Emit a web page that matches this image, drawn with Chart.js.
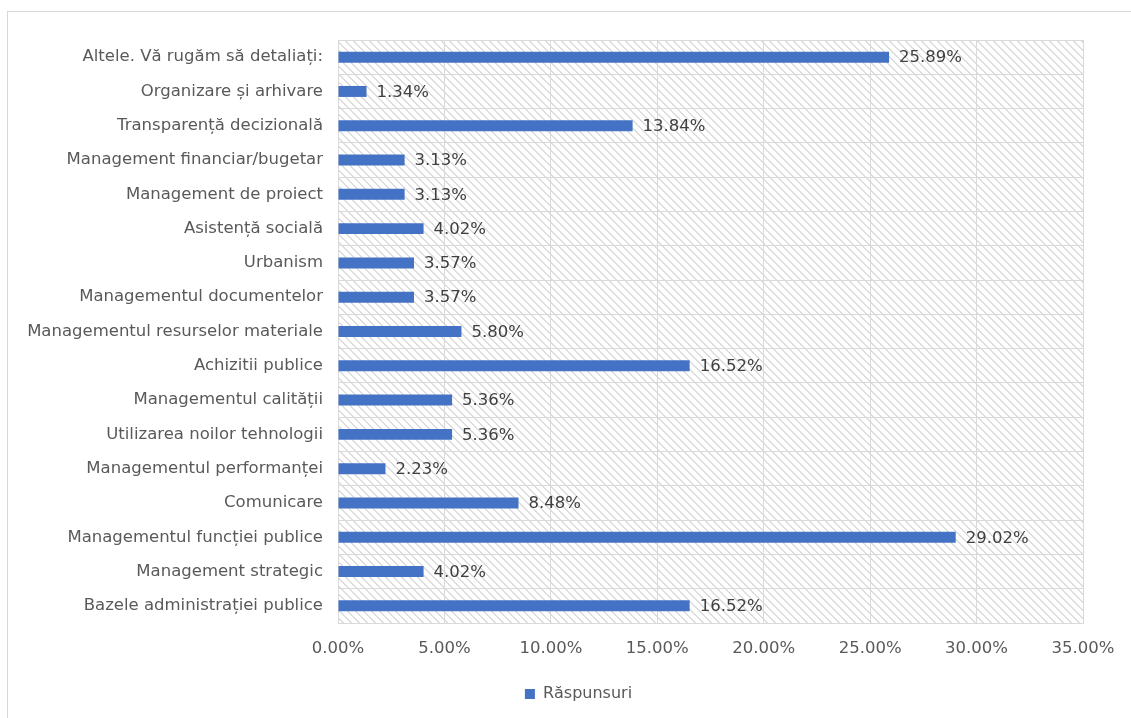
<!DOCTYPE html>
<html>
<head>
<meta charset="utf-8">
<script src="https://cdn.jsdelivr.net/npm/chart.js@4"></script>
<style>
  html, body { margin: 0; padding: 0; background: #fff; overflow: hidden; }
  #wrap { width: 1131px; height: 718px; }
</style>
</head>
<body>
<div id="wrap"><canvas id="myChart" width="1131" height="718"></canvas></div>
<script>
const ctx = document.getElementById("myChart").getContext("2d");

// categories, top to bottom
const categories = [
  "Altele. Vă rugăm să detaliați:",
  "Organizare și arhivare",
  "Transparență decizională",
  "Management financiar/bugetar",
  "Management de proiect",
  "Asistență socială",
  "Urbanism",
  "Managementul documentelor",
  "Managementul resurselor materiale",
  "Achizitii publice",
  "Managementul calității",
  "Utilizarea noilor tehnologii",
  "Managementul performanței",
  "Comunicare",
  "Managementul funcției publice",
  "Management strategic",
  "Bazele administrației publice",
];

// share of answers, in percent
const raspunsuri = [
  25.89, 1.34, 13.84, 3.13, 3.13, 4.02, 3.57, 3.57, 5.8, 16.52, 5.36, 5.36,
  2.23, 8.48, 29.02, 4.02, 16.52,
];

const xTicks = [0, 5, 10, 15, 20, 25, 30, 35];

const FONT = "'DejaVu Sans', sans-serif";
const FSIZE = 16.5;
const TEXT = "#595959";
const GRID = "#d9d9d9";

// diagonal hatch for the plot area
function makeHatch() {
  const tile = document.createElement("canvas");
  tile.width = 8;
  tile.height = 8;
  const t = tile.getContext("2d");
  t.fillStyle = "#dcdcdc";
  for (let i = 0; i < 8; i++) {
    t.fillRect(i, i, 1, 1);
    t.fillRect((i + 1) % 8, i, 1, 1);
  }
  return ctx.createPattern(tile, "repeat");
}
const hatch = makeHatch();

const backdrop = {
  id: "backdrop",
  afterLayout(chart) {
    // legend sits centred under the whole frame, not the plot
    chart.legend.left += 37;
    chart.legend.right += 37;
  },
  beforeDraw(chart) {
    const c = chart.ctx;
    const a = chart.chartArea;
    c.save();
    c.strokeStyle = GRID;
    c.lineWidth = 1;
    c.strokeRect(7.5, 11.5, 1300, 900);
    c.fillStyle = hatch;
    c.fillRect(a.left, a.top, a.right - a.left, a.bottom - a.top);
    c.restore();
  },
  afterDatasetsDraw(chart) {
    const c = chart.ctx;
    const meta = chart.getDatasetMeta(0);
    c.save();
    c.font = FSIZE + "px " + FONT;
    c.fillStyle = "#404040";
    c.textBaseline = "middle";
    c.textAlign = "left";
    meta.data.forEach((bar, i) => {
      c.fillText(raspunsuri[i].toFixed(2) + "%", bar.x + 10, bar.y + 1);
    });
    c.restore();
  },
};

function buildChart() {
  const config = {
    type: "bar",
    data: {
      labels: categories,
      datasets: [
        {
          label: "Răspunsuri",
          data: raspunsuri,
          backgroundColor: "#4472c4",
          borderWidth: 0,
          categoryPercentage: 1,
          barPercentage: 0.32,
        },
      ],
    },
    plugins: [backdrop],
    options: {
      indexAxis: "y",
      responsive: false,
      animation: false,
      layout: { padding: { top: 40, right: 48, left: 0, bottom: 6 } },
      plugins: {
        tooltip: { enabled: false },
        legend: {
          position: "bottom",
          labels: {
            font: { family: FONT, size: 16 },
            color: TEXT,
            boxWidth: 10,
            boxHeight: 10,
            padding: 10,
          },
        },
      },
      scales: {
        x: {
          min: 0,
          max: 35,
          afterBuildTicks: (scale) => {
            scale.ticks = xTicks.map((v) => ({ value: v }));
          },
          afterFit: (scale) => {
            scale.height = 53;
          },
          ticks: {
            font: { family: FONT, size: FSIZE },
            color: TEXT,
            padding: 16,
            callback: (v) => v.toFixed(2) + "%",
          },
          grid: { color: GRID, drawTicks: false },
          border: { color: GRID },
        },
        y: {
          afterFit: (scale) => {
            scale.width = 338;
          },
          ticks: {
            font: { family: FONT, size: FSIZE },
            color: TEXT,
            padding: 15,
            autoSkip: false,
          },
          grid: { color: GRID, drawTicks: false, offset: true },
          border: { color: GRID },
        },
      },
    },
  };
  new Chart(ctx, config);
}

buildChart();
</script>
</body>
</html>
